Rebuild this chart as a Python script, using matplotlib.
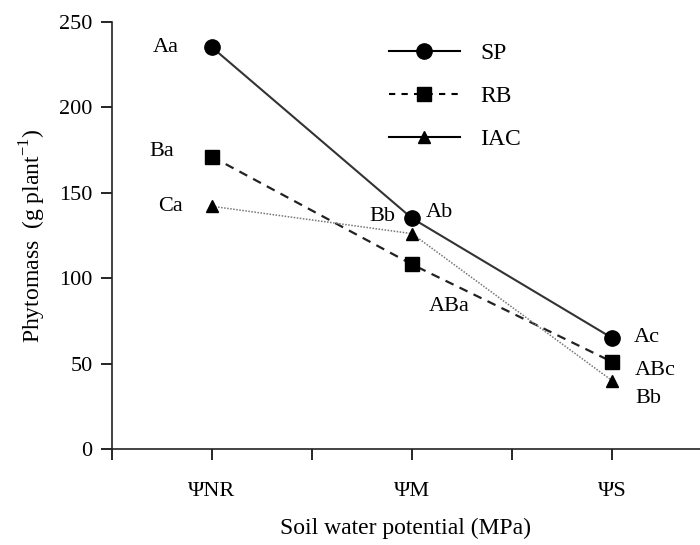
import matplotlib
matplotlib.use('Agg')
import matplotlib.pyplot as plt
from matplotlib.lines import Line2D

################################################################
categories = ['\u03a8NR', '\u03a8M', '\u03a8S']
cat_pos = [1, 2, 3]

sp = [235, 135, 65]
rb = [171, 108, 51]
iac = [142, 126, 40]

sp_letters = ['Aa', 'Ab', 'Ac']
rb_letters = ['Ba', 'ABa', 'ABc']
iac_letters = ['Ca', 'Bb', 'Bb']
################################################################

plt.rcParams['font.family'] = ['Liberation Serif', 'DejaVu Serif']
plt.rcParams['font.size'] = 16
plt.rcParams['mathtext.fontset'] = 'custom'
plt.rcParams['mathtext.rm'] = 'Liberation Serif'

fig = plt.figure(figsize=(7, 5.45), dpi=100)
ax = fig.add_axes([112/700, 96/545, 588/700, 427.3/545])

ax.plot(cat_pos, sp, color='#333333', lw=1.5, marker='o', ms=11,
        mfc='black', mec='black', zorder=4)
ax.plot(cat_pos, rb, color='#222222', lw=1.6, ls=(0, (4, 3)), marker='s', ms=10,
        mfc='black', mec='black', zorder=3)
ax.plot(cat_pos, iac, color='#777777', lw=1.1, ls=(0, (1, 1)), marker='^', ms=9,
        mfc='black', mec='black', zorder=3)

# letter labels (offsets in points)
offs_sp = [(-33, 0), (20, 4), (25, 0)]
offs_rb = [(-36, 4), (27, -30), (31, -6)]
offs_iac = [(-30, 0), (-21, 12), (26, -13)]
for ys, labs, offs in [(sp, sp_letters, offs_sp), (rb, rb_letters, offs_rb), (iac, iac_letters, offs_iac)]:
    for x, y, t, o in zip(cat_pos, ys, labs, offs):
        ax.annotate(t, (x, y), xytext=o, textcoords='offset points',
                    ha='center', va='center', fontsize=16)

ax.set_xlim(0.5, 0.5 + 588/200)
ax.set_ylim(0, 250)
ax.set_xticks([0.5, 1, 1.5, 2, 2.5, 3])
ax.set_xticklabels(['', categories[0], '', categories[1], '', categories[2]])
ax.set_yticks([0, 50, 100, 150, 200, 250])
ax.tick_params(axis='x', direction='out', length=8, width=1.2, pad=16, labelsize=16)
ax.tick_params(axis='y', direction='out', length=8, width=1.2, pad=6, labelsize=16)
ax.spines['top'].set_visible(False)
ax.spines['right'].set_visible(False)
ax.spines['left'].set_linewidth(1.2)
ax.spines['bottom'].set_linewidth(1.2)
ax.spines['left'].set_color('#222222')
ax.spines['bottom'].set_color('#222222')

ax.set_ylabel('Phytomass  (g plant$^{\\mathregular{-1}}$)', fontsize=17, labelpad=8)
ax.set_xlabel('Soil water potential (MPa)', fontsize=17, labelpad=12)

handles = [
    Line2D([], [], color='black', lw=1.5, marker='o', ms=11),
    Line2D([], [], color='black', lw=1.5, ls=(0, (3, 3)), marker='s', ms=10),
    Line2D([], [], color='black', lw=1.5, marker='^', ms=9),
]
ax.legend(handles, ['SP', 'RB', 'IAC'], loc='upper left', bbox_to_anchor=(0.435, 1.0),
          frameon=False, handlelength=3.0, labelspacing=0.9, handletextpad=0.85,
          fontsize=17)

fig.savefig('out.png', dpi=100)
print('### Done!! ###')
